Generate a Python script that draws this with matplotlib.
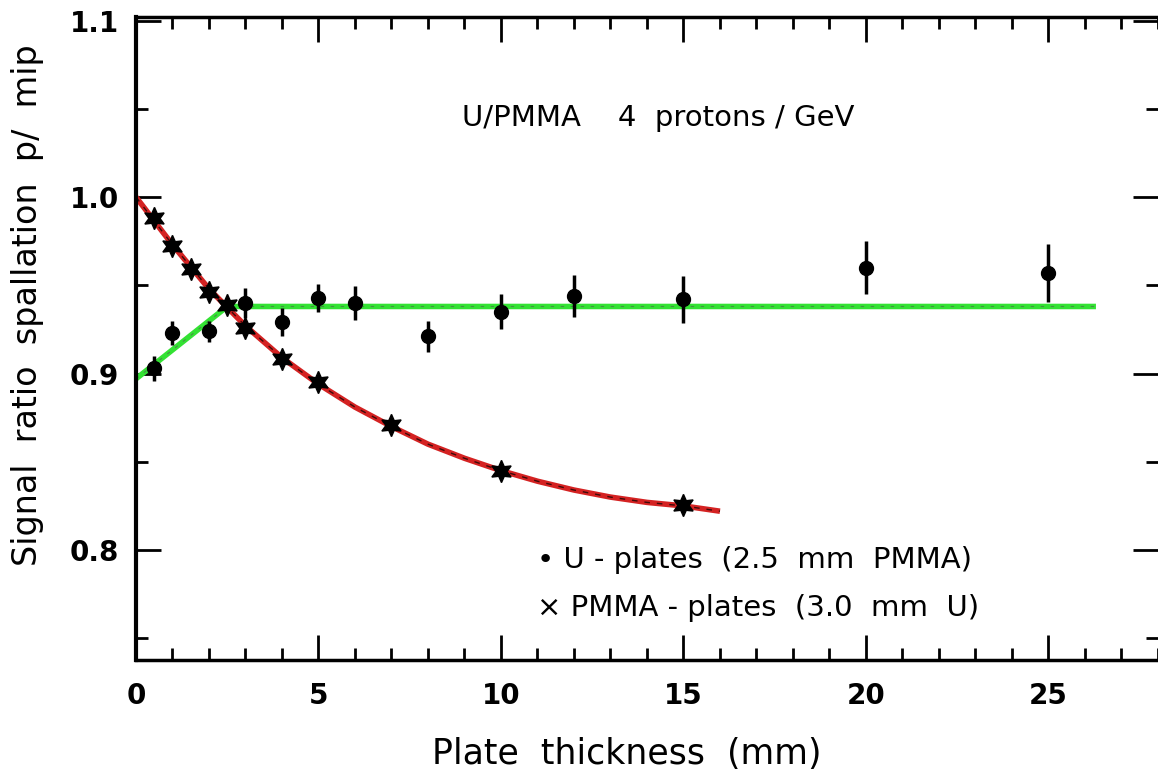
import matplotlib
matplotlib.use("Agg")
import matplotlib.pyplot as plt
from matplotlib.ticker import MultipleLocator, FormatStrFormatter

# U-plates (2.5 mm PMMA): signal ratio with error bars
u_thick = [0.5, 1, 2, 3, 4, 5, 6, 8, 10, 12, 15, 20, 25]
u_ratio = [0.903, 0.923, 0.924, 0.940, 0.929, 0.943, 0.940, 0.921, 0.935, 0.944, 0.942, 0.960, 0.957]
u_err = [0.007, 0.007, 0.006, 0.0085, 0.008, 0.008, 0.0095, 0.009, 0.010, 0.012, 0.0135, 0.015, 0.0165]

# PMMA-plates (3.0 mm U)
pmma_thick = [0.5, 1, 1.5, 2, 2.5, 3, 4, 5, 7, 10, 15]
pmma_ratio = [0.988, 0.972, 0.959, 0.946, 0.939, 0.926, 0.908, 0.895, 0.871, 0.845, 0.8255]

# fitted curves
red_x = [0, 1, 2, 3, 4, 5, 6, 7, 8, 9, 10, 11, 12, 13, 14, 15, 16]
red_y = [1.000, 0.973, 0.948, 0.927, 0.909, 0.894, 0.881, 0.870, 0.860, 0.852,
         0.845, 0.839, 0.834, 0.830, 0.827, 0.825, 0.822]
green_x = [0, 2.5, 26.3]
green_y = [0.897, 0.938, 0.938]

fig = plt.figure(figsize=(11.58, 7.74), dpi=100)
ax = fig.add_axes([0.1174, 0.1473, 0.8826, 0.8307])

# fit lines: coloured stroke with a dark dashed trace on top
ax.plot(red_x, red_y, color='#d42222', lw=4, solid_capstyle='butt', zorder=2)
ax.plot(red_x, red_y, color='black', lw=1.0, ls=(0, (4, 5)), alpha=0.7, zorder=2.1)
ax.plot(green_x, green_y, color='#33e233', lw=4, solid_capstyle='butt', zorder=2)
ax.plot(green_x, green_y, color='#555555', lw=0.8, ls=(0, (3, 6)), alpha=0.6, zorder=2.1)

ax.errorbar(u_thick, u_ratio, yerr=u_err, fmt='o', color='black', ms=10,
            elinewidth=2.5, capsize=0, zorder=3)
ax.plot(pmma_thick, pmma_ratio, ls='none', marker=(6, 1, 0), color='black',
        ms=16, zorder=3)

ax.set_xlim(0, 28)
ax.set_ylim(0.7377, 1.102)

ax.xaxis.set_major_locator(MultipleLocator(5))
ax.xaxis.set_minor_locator(MultipleLocator(1))
ax.yaxis.set_major_locator(MultipleLocator(0.1))
ax.yaxis.set_minor_locator(MultipleLocator(0.05))
ax.yaxis.set_major_formatter(FormatStrFormatter('%.1f'))

ax.tick_params(which='both', direction='in', top=True, right=True, width=2, color='black')
ax.tick_params(which='major', length=18)
ax.tick_params(which='minor', length=8.5)
ax.tick_params(axis='x', which='major', pad=16, labelsize=20)
ax.tick_params(axis='y', which='major', pad=12, labelsize=20)
for lab in ax.get_xticklabels() + ax.get_yticklabels():
    lab.set_fontweight('bold')

ax.spines['right'].set_visible(False)
ax.spines['left'].set_linewidth(3)
ax.spines['bottom'].set_linewidth(2.5)
ax.spines['top'].set_linewidth(2.5)

# axis titles
fig.text(0.5415, 0.026, 'Plate  thickness  (mm)', fontsize=25, ha='center', va='center')
fig.text(0.024, 0.606, 'Signal  ratio  spallation  p/  mip', fontsize=24,
         rotation=90, ha='center', va='center')

ax.text(14.3, 1.0448, 'U/PMMA    4  protons / GeV', fontsize=21, ha='center', va='center')
ax.text(11.0, 0.7943, '\u2022 U - plates  (2.5  mm  PMMA)', fontsize=21, va='center')
ax.text(11.0, 0.767, '\u00d7 PMMA - plates  (3.0  mm  U)', fontsize=21, va='center')

fig.savefig('out.png', dpi=100)
